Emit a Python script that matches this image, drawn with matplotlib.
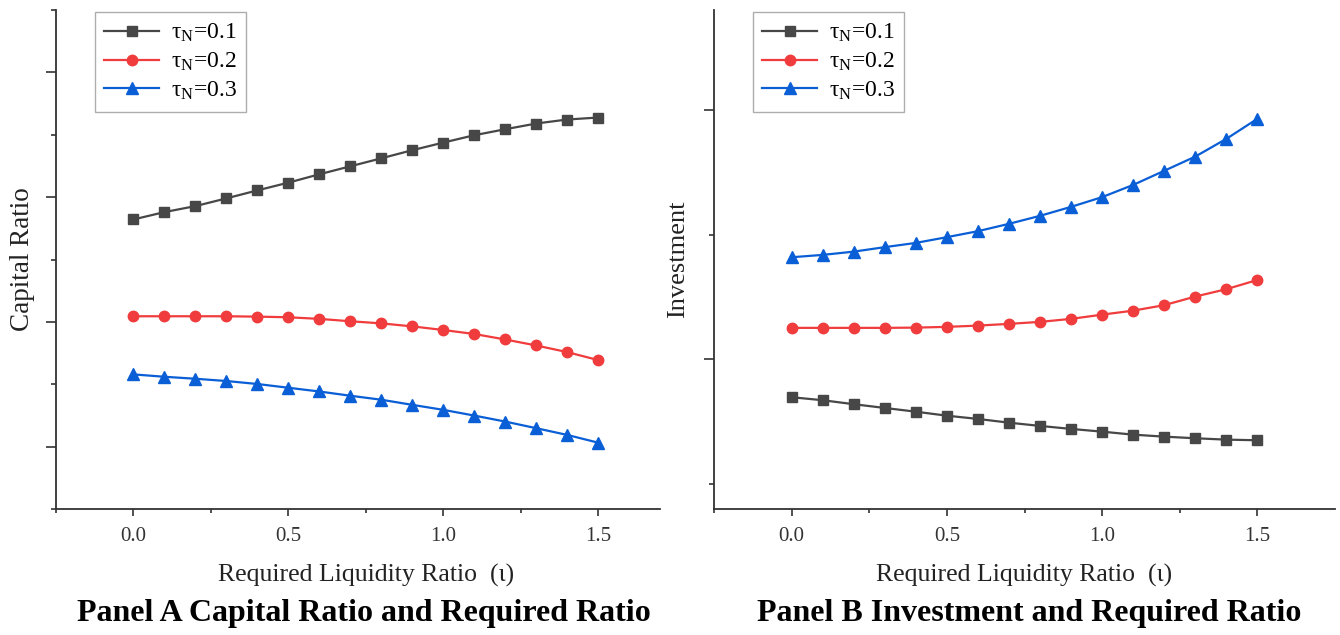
from matplotlib import pyplot as plt
import numpy as np

plt.rcParams['font.family'] = ['Liberation Serif', 'DejaVu Serif']
plt.rcParams['mathtext.fontset'] = 'custom'
plt.rcParams['mathtext.rm'] = 'Liberation Serif'
plt.rcParams['mathtext.it'] = 'Liberation Serif:italic'

# required liquidity ratio
iota = [0.0, 0.1, 0.2, 0.3, 0.4, 0.5, 0.6, 0.7, 0.8, 0.9, 1.0, 1.1, 1.2, 1.3, 1.4, 1.5]
labels = ['τ$_{\\mathrm{N}}$=0.1', 'τ$_{\\mathrm{N}}$=0.2', 'τ$_{\\mathrm{N}}$=0.3']

# Panel A: capital ratio (y tick labels hidden in the original, arbitrary units)
capA_01 = [2.321, 2.380, 2.428, 2.490, 2.554, 2.616, 2.683, 2.747, 2.811, 2.876, 2.937, 2.996, 3.044, 3.090, 3.122, 3.138]
capA_02 = [1.545, 1.545, 1.545, 1.545, 1.542, 1.537, 1.524, 1.505, 1.488, 1.464, 1.435, 1.403, 1.359, 1.311, 1.258, 1.194]
capA_03 = [1.079, 1.060, 1.044, 1.026, 1.002, 0.972, 0.942, 0.908, 0.876, 0.835, 0.795, 0.749, 0.701, 0.648, 0.594, 0.532]

# Panel B: investment (arbitrary units)
invB_01 = [0.696, 0.672, 0.640, 0.610, 0.580, 0.548, 0.522, 0.492, 0.466, 0.442, 0.420, 0.396, 0.380, 0.367, 0.356, 0.351]
invB_02 = [1.252, 1.252, 1.252, 1.252, 1.254, 1.260, 1.270, 1.284, 1.300, 1.324, 1.358, 1.390, 1.434, 1.503, 1.562, 1.636]
invB_03 = [1.818, 1.837, 1.863, 1.899, 1.933, 1.979, 2.027, 2.086, 2.150, 2.222, 2.300, 2.398, 2.511, 2.625, 2.767, 2.928]

colors = ['#474747', '#f03c3c', '#0a5fd6']
markers = ['s', 'o', '^']
msizes = [7, 7.5, 8]

W, H = 1340, 635
fig = plt.figure(figsize=(W / 100, H / 100), dpi=100)
axA = fig.add_axes([56 / W, 1 - 509 / H, 604 / W, 499 / H])
axB = fig.add_axes([714 / W, 1 - 509 / H, 621 / W, 499 / H])


def style_axis(ax, xmax):
    for s in ['top', 'right']:
        ax.spines[s].set_visible(False)
    for s in ['left', 'bottom']:
        ax.spines[s].set_linewidth(1.3)
        ax.spines[s].set_color('#333333')
    ax.set_xlim(-0.25, xmax)
    ax.set_xticks([0.0, 0.5, 1.0, 1.5])
    ax.set_xticklabels(['0.0', '0.5', '1.0', '1.5'])
    ax.set_xticks([-0.25, 0.25, 0.75, 1.25], minor=True)
    ax.tick_params(axis='x', which='major', length=5, width=1.2, pad=8, labelsize=15, colors='#333333')
    ax.tick_params(axis='x', which='minor', length=3, width=1.2, colors='#333333')
    ax.tick_params(axis='y', which='major', length=7, width=1.2, labelleft=False, colors='#333333')
    ax.tick_params(axis='y', which='minor', length=3.5, width=1.2, colors='#333333')
    ax.set_xlabel('Required Liquidity Ratio  (ι)', fontsize=18.5, labelpad=13, color='#222222')


def draw(ax, series):
    for ys, c, m, ms, lab in zip(series, colors, markers, msizes, labels):
        ax.plot(iota, ys, color=c, marker=m, markersize=ms, linewidth=1.6, label=lab)


draw(axA, [capA_01, capA_02, capA_03])
style_axis(axA, 1.70)
axA.set_ylim(0, 4.0)
axA.set_yticks([0.5, 1.5, 2.5, 3.5])
axA.set_yticks([0, 1, 2, 3, 4], minor=True)
axA.set_ylabel('Capital Ratio', fontsize=19.5, labelpad=8, color='#222222')
# label in the original sits a little right of the axis centre
axA.xaxis.set_label_coords((366 - 56) / 604, -0.11)
axB.xaxis.set_label_coords(0.5, -0.11)

draw(axB, [invB_01, invB_02, invB_03])
style_axis(axB, 1.75)
axB.set_ylim(-0.2, 3.8)
axB.set_yticks([1, 3])
axB.set_yticks([0, 2], minor=True)
axB.set_ylabel('Investment', fontsize=19, labelpad=11, color='#222222')

for ax, x0 in [(axA, 39 / 604), (axB, 39 / 621)]:
    leg = ax.legend(loc='upper left', bbox_to_anchor=(x0, 0.995), fontsize=17, frameon=True,
                    fancybox=False, edgecolor='#999999', handlelength=2.3, handletextpad=0.5,
                    borderpad=0.4, labelspacing=0.28, borderaxespad=0)
    leg.get_frame().set_linewidth(1.0)

fig.text(364 / W, 1 - 614 / H, 'Panel A Capital Ratio and Required Ratio', ha='center', va='center',
         fontsize=23, fontweight='bold', color='black')
fig.text(1029 / W, 1 - 614 / H, 'Panel B Investment and Required Ratio', ha='center', va='center',
         fontsize=23, fontweight='bold', color='black')

fig.savefig('out.png', dpi=100)
